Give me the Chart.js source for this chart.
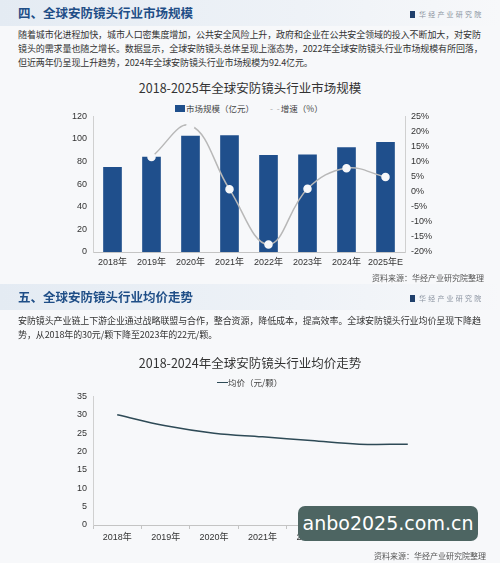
<!DOCTYPE html>
<html>
<head>
<meta charset="utf-8">
<script src="https://cdn.jsdelivr.net/npm/chart.js@4"></script>
<style>
  body { margin:0; background:#f7f8fa; font-family:"Noto Sans CJK SC", sans-serif; }
  #page { position:relative; width:500px; height:563px; overflow:hidden; background:#f7f8fa; }
  .band { position:absolute; left:0; width:500px; height:26px; background:linear-gradient(to right,#e4ebf3,#eef2f7 60%,#f7f8fa); }
  .hd { position:absolute; left:18px; font-size:12.5px; font-weight:bold; color:#1f4e87; line-height:16px; white-space:nowrap; }
  .logo { position:absolute; left:410px; font-size:7px; color:#8a93a0; letter-spacing:2.2px; white-space:nowrap; line-height:10px; }
  .logo i { display:inline-block; width:5px; height:7px; background:#1f3f6b; margin-right:4px; vertical-align:-1px; }
  .txt { position:absolute; left:18px; font-size:9px; color:#333; line-height:14px; white-space:nowrap; letter-spacing:-0.1px; }
  .ttl { position:absolute; left:0; width:500px; text-align:center; font-size:12.5px; color:#333; line-height:16px; }
  .lg { position:absolute; font-size:8.5px; color:#444; white-space:nowrap; line-height:10px; }
  .src { position:absolute; right:16px; font-size:8px; color:#555; white-space:nowrap; line-height:10px; }
  .wm { position:absolute; left:298px; top:506px; width:180px; height:35px; border-radius:7px; background:#4d6562; color:#fff;
        font-family:"DejaVu Sans", sans-serif; font-size:19px; line-height:35px; text-align:center; }
  canvas { position:absolute; left:0; }
</style>
</head>
<body>
<div id="page">
  <div class="band" style="top:0"></div>
  <div class="hd" style="top:5px">四、全球安防镜头行业市场规模</div>
  <div class="logo" style="top:9px"><i></i>华经产业研究院</div>
  <div class="txt" style="top:28px">随着城市化进程加快，城市人口密集度增加，公共安全风险上升，政府和企业在公共安全领域的投入不断加大，对安防<br>镜头的需求量也随之增长。数据显示，全球安防镜头总体呈现上涨态势，2022年全球安防镜头行业市场规模有所回落，<br>但近两年仍呈现上升趋势，2024年全球安防镜头行业市场规模为92.4亿元。</div>

  <div class="ttl" style="top:80px">2018-2025年全球安防镜头行业市场规模</div>
  <div class="lg" style="left:175px; top:103px"><span style="display:inline-block;width:10px;height:7px;background:#1f4f8c;margin-right:1px"></span>市场规模（亿元）</div>
  <div class="lg" style="left:270px; top:103px"><span style="color:#aaa;letter-spacing:1px">- -</span>增速（%）</div>
  <canvas id="chart1" width="500" height="170" style="top:105px"></canvas>
  <div class="src" style="top:273px">资料来源：华经产业研究院整理</div>

  <div class="band" style="top:284px"></div>
  <div class="hd" style="top:289px">五、全球安防镜头行业均价走势</div>
  <div class="logo" style="top:293px"><i></i>华经产业研究院</div>
  <div class="txt" style="top:314px">安防镜头产业链上下游企业通过战略联盟与合作，整合资源，降低成本，提高效率。全球安防镜头行业均价呈现下降趋<br>势，从2018年的30元/颗下降至2023年的22元/颗。</div>

  <div class="ttl" style="top:355px">2018-2024年全球安防镜头行业均价走势</div>
  <div class="lg" style="left:217px; top:377px"><span style="display:inline-block;width:11px;height:1.5px;background:#2e4a56;vertical-align:3px"></span>均价（元/颗）</div>
  <canvas id="chart2" width="500" height="160" style="top:385px"></canvas>
  <div class="src" style="top:551px; right:14px">资料来源：华经产业研究院整理</div>

  <div class="wm">anbo2025.com.cn</div>
</div>

<script>
var years = ['2018年', '2019年', '2020年', '2021年', '2022年', '2023年', '2024年', '2025年E'];
var marketSize = [75, 84, 102.5, 103, 85.5, 86, 92.4, 97];
var growthRate = [null, 11.5, 22, 0.8, -17.5, 1, 7.8, 4.9];

var priceYears = ['2018年', '2019年', '2020年', '2021年', '2022年', '2023年', '2024年E'];
var avgPrice = [30, 27, 25, 24, 23, 22, 22];

Chart.defaults.font.family = '"Liberation Sans", "Noto Sans CJK SC", sans-serif';
Chart.defaults.font.size = 9;
Chart.defaults.color = '#333';

var ctx1 = document.getElementById('chart1');
var chart1 = new Chart(ctx1, {
  data: {
    labels: years,
    datasets: [
      {
        type: 'line',
        label: '增速（%）',
        data: growthRate,
        yAxisID: 'y1',
        borderColor: '#b8b8b8',
        borderWidth: 1.5,
        tension: 0.4,
        pointRadius: 3.5,
        // same as page bg, so only the points over the bars show up
        pointBackgroundColor: '#f7f8fa',
        pointBorderColor: '#f7f8fa',
        order: 0
      },
      {
        type: 'bar',
        label: '市场规模（亿元）',
        data: marketSize,
        yAxisID: 'y',
        backgroundColor: '#1f4f8c',
        barThickness: 18,
        order: 1
      }
    ]
  },
  options: {
    responsive: false,
    animation: false,
    layout: { padding: { top: 10, bottom: 0, left: 0, right: 0 } },
    plugins: { legend: { display: false }, tooltip: { enabled: false } },
    scales: {
      x: {
        grid: { display: false, drawTicks: false },
        border: { color: '#c4c4c4' },
        ticks: { padding: 5, maxRotation: 0, autoSkip: false },
        afterFit: function(s) { s.height = 23; }
      },
      y: {
        position: 'left',
        min: 0, max: 120,
        ticks: { stepSize: 20, padding: 6 },
        grid: { display: false, drawTicks: false },
        border: { color: '#d0d0d0' },
        afterFit: function(s) { s.width = 93; }
      },
      y1: {
        position: 'right',
        min: -20, max: 25,
        ticks: { stepSize: 5, padding: 6, callback: function(v) { return v + '%'; } },
        grid: { display: false, drawTicks: false },
        border: { color: '#d0d0d0' },
        afterFit: function(s) { s.width = 95; }
      }
    }
  }
});

var ctx2 = document.getElementById('chart2');
var chart2 = new Chart(ctx2, {
  type: 'line',
  data: {
    labels: priceYears,
    datasets: [
      {
        label: '均价（元/颗）',
        data: avgPrice,
        borderColor: '#2e4a56',
        borderWidth: 1.5,
        tension: 0.4,
        pointRadius: 0
      }
    ]
  },
  options: {
    responsive: false,
    animation: false,
    layout: { padding: { top: 7, bottom: 0, left: 0, right: 68 } },
    plugins: { legend: { display: false }, tooltip: { enabled: false } },
    scales: {
      x: {
        offset: true,
        grid: { display: true, drawOnChartArea: false, offset: true, tickLength: 4, color: '#c4c4c4' },
        border: { color: '#c4c4c4' },
        ticks: { padding: 3, maxRotation: 0, autoSkip: false },
        afterFit: function(s) { s.height = 20; }
      },
      y: {
        min: 0, max: 35,
        ticks: { stepSize: 5, padding: 6 },
        grid: { display: false, drawTicks: false },
        border: { color: '#d0d0d0' },
        afterFit: function(s) { s.width = 93; }
      }
    }
  }
});
</script>
</body>
</html>
